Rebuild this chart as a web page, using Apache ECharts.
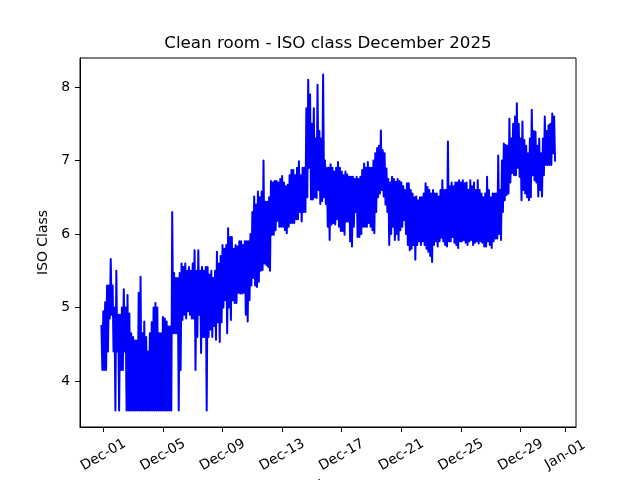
<!DOCTYPE html>
<html>
<head>
<meta charset="utf-8">
<title>Clean room - ISO class December 2025</title>
<script src="https://cdn.jsdelivr.net/npm/echarts@6/dist/echarts.min.js"></script>
<style>
  html, body { margin: 0; padding: 0; background: #fff; }
  #chart { width: 640px; height: 480px; }
</style>
</head>
<body>
<div id="chart"></div>
<script>
// ISO class, read as highest / lowest value in each 3 hour slot.
// First slot starts 2025-11-30 21:00 (UTC), 8 slots a day.
const firstSlot = Date.UTC(2025, 10, 30, 21)
const slotHours = 3

// Nov 30 21:00 + Dec 01 .. Dec 07
const hiWeek1 = [4.75,
  4.95, 5.07, 5.3, 5.3, 5.66, 5.3, 5.0, 5.5,
  4.9, 4.9, 5.0, 5.25, 5.0, 5.17, 4.92, 4.65,
  4.6, 4.55, 4.55, 5.2, 5.42, 4.65, 4.81, 4.6,
  4.4, 4.65, 4.8, 5.0, 5.06, 5.0, 4.65, 4.65,
  4.87, 4.85, 4.81, 4.74, 4.74, 6.3, 5.47, 5.4,
  5.4, 5.47, 5.6, 5.55, 5.6, 5.5, 5.55, 5.5,
  5.6, 5.78, 5.5, 5.78, 5.5, 5.55, 5.5, 5.55]
const loWeek1 = [4.15,
  4.15, 4.15, 4.4, 4.85, 4.9, 4.4, 3.6, 4.4,
  3.6, 4.15, 4.15, 4.4, 3.6, 3.6, 3.6, 3.6,
  3.6, 3.6, 3.6, 3.6, 3.6, 3.6, 3.6, 3.6,
  3.6, 3.6, 3.6, 3.6, 3.6, 3.6, 3.6, 3.6,
  3.6, 3.6, 3.6, 3.6, 3.6, 4.65, 4.65, 4.65,
  3.6, 4.15, 4.83, 4.9, 4.85, 4.95, 4.9, 4.85,
  4.85, 4.15, 4.6, 4.9, 4.38, 4.6, 4.6, 3.6]
// Dec 08 .. Dec 14
const hiWeek2 = [
  5.55, 5.45, 5.5, 5.4, 5.5, 5.76, 5.6, 5.7,
  5.85, 5.8, 5.85, 6.08, 5.96, 5.96, 5.8, 5.85,
  5.83, 5.9, 5.9, 5.85, 5.9, 5.9, 5.9, 6.0,
  6.3, 6.51, 6.4, 6.58, 6.5, 6.58, 7.0, 6.44,
  6.44, 6.5, 6.72, 6.7, 6.72, 6.72, 6.7, 6.75,
  6.79, 6.7, 6.65, 6.67, 6.8, 6.87, 6.87, 6.8,
  6.9, 6.99, 6.8, 6.9, 6.9, 7.71, 8.1, 7.9]
const loWeek2 = [
  4.6, 4.7, 4.6, 4.75, 4.56, 4.8, 4.53, 4.8,
  5.0, 5.1, 4.65, 5.0, 4.83, 5.1, 5.06, 5.06,
  5.2, 5.19, 5.19, 5.2, 4.9, 4.81, 5.1, 5.3,
  5.4, 5.3, 5.28, 5.35, 5.5, 5.51, 5.6, 5.58,
  5.55, 5.5, 5.99, 5.99, 6.05, 6.18, 6.1, 6.1,
  6.1, 6.05, 6.01, 6.1, 6.15, 6.15, 6.15, 6.2,
  6.2, 6.3, 6.17, 6.3, 6.3, 6.5, 6.9, 6.47]
// Dec 15 .. Dec 21
const hiWeek3 = [
  7.5, 7.71, 7.3, 8.03, 7.4, 7.3, 8.17, 7.0,
  6.9, 6.9, 6.95, 6.9, 6.85, 6.9, 6.98, 6.9,
  6.85, 6.8, 6.85, 6.81, 6.78, 6.78, 6.78, 6.75,
  6.78, 6.75, 6.78, 6.87, 6.96, 6.9, 6.98, 6.9,
  6.9, 7.0, 7.1, 7.17, 7.2, 7.41, 7.14, 7.1,
  6.89, 6.75, 6.7, 6.78, 6.75, 6.71, 6.75, 6.72,
  6.7, 6.65, 6.6, 6.69, 6.69, 6.6, 6.55, 6.5]
const loWeek3 = [
  6.47, 6.5, 6.49, 6.6, 6.41, 6.45, 6.5, 6.41,
  6.1, 5.92, 6.13, 6.15, 6.13, 6.2, 6.1, 6.04,
  6.04, 5.99, 6.17, 6.17, 5.9, 5.83, 6.1, 6.3,
  5.96, 5.96, 6.0, 6.1, 6.1, 6.1, 6.15, 6.1,
  6.05, 6.01, 6.3, 6.5, 6.55, 6.6, 6.51, 6.4,
  6.3, 5.85, 6.0, 6.1, 5.92, 6.0, 5.92, 6.05,
  6.1, 6.19, 6.0, 5.85, 5.78, 5.8, 5.85, 5.65]
// Dec 22 .. Dec 28
const hiWeek4 = [
  6.51, 6.46, 6.5, 6.5, 6.55, 6.69, 6.64, 6.6,
  6.55, 6.6, 6.55, 6.55, 6.51, 6.6, 6.73, 6.6,
  6.6, 7.26, 6.65, 6.7, 6.65, 6.7, 6.7, 6.73,
  6.7, 6.73, 6.69, 6.7, 6.6, 6.73, 6.65, 6.7,
  6.6, 6.73, 6.6, 6.55, 6.5, 6.55, 6.78, 6.6,
  6.5, 6.55, 6.55, 6.55, 7.07, 6.6, 7.0, 7.23,
  7.21, 7.2, 7.57, 7.3, 7.5, 7.6, 7.78, 7.5]
const loWeek4 = [
  5.85, 5.9, 5.85, 5.9, 5.85, 5.8, 5.76, 5.7,
  5.62, 5.85, 5.9, 5.83, 5.9, 5.95, 5.9, 5.85,
  5.83, 5.9, 5.9, 5.96, 5.88, 5.85, 5.81, 5.9,
  5.9, 5.92, 5.88, 5.85, 5.9, 5.92, 5.85, 5.88,
  5.9, 5.87, 5.9, 5.88, 5.83, 5.83, 5.9, 5.85,
  5.81, 5.9, 5.94, 5.94, 6.0, 5.92, 6.3, 6.46,
  6.53, 6.55, 6.7, 6.83, 6.8, 6.8, 6.9, 6.78]
// Dec 29 .. Dec 31 06:00
const hiWeek5 = [
  7.3, 7.53, 7.28, 7.2, 7.1, 7.3, 7.69, 7.4,
  7.39, 7.2, 7.3, 7.1, 7.3, 7.6, 7.4, 7.48,
  7.5, 7.64, 7.6]
const loWeek5 = [
  6.46, 6.6, 6.55, 6.5, 6.46, 6.5, 6.8, 6.73,
  6.7, 6.51, 6.6, 6.51, 6.8, 6.94, 6.94, 6.94,
  6.94, 7.1, 7.0]

const tickDates = ['2025-12-01', '2025-12-05', '2025-12-09', '2025-12-13', '2025-12-17',
  '2025-12-21', '2025-12-25', '2025-12-29', '2026-01-01']
const tickLabels = ['Dec-01', 'Dec-05', 'Dec-09', 'Dec-13', 'Dec-17',
  'Dec-21', 'Dec-25', 'Dec-29', 'Jan-01']
const yTicks = [4, 5, 6, 7, 8]

const HOUR = 3600 * 1000
const DAY = 24 * HOUR
const hi = [].concat(hiWeek1, hiWeek2, hiWeek3, hiWeek4, hiWeek5)
const lo = [].concat(loWeek1, loWeek2, loWeek3, loWeek4, loWeek5)

// high reading at the start of the slot, low reading half way through
const points = []
hi.forEach((v, i) => {
  const t = firstSlot + i * slotHours * HOUR
  points.push([t, v])
  points.push([t + slotHours * HOUR / 2, lo[i]])
})
const tickTimes = tickDates.map(d => Date.parse(d + 'T00:00:00Z'))

const font = 'DejaVu Sans'

const chart = echarts.init(document.getElementById('chart'), null, { renderer: 'canvas' })
chart.setOption({
  animation: false,
  backgroundColor: '#fff',
  graphic: [{
    type: 'text',
    x: 328,
    y: 43.5,
    style: {
      text: 'Clean room - ISO class December 2025',
      fill: '#000',
      font: '16.7px "DejaVu Sans"',
      textAlign: 'center',
      textVerticalAlign: 'middle'
    }
  }],
  grid: {
    left: 80,
    right: 64,
    top: 58,
    bottom: 53,
    outerBoundsMode: 'none',
    show: true,
    borderColor: '#000',
    borderWidth: 1
  },
  xAxis: {
    // timestamps in ms on a plain value axis, labelled like dates
    type: 'value',
    min: tickTimes[0] - 1.563 * DAY,
    max: tickTimes[tickTimes.length - 1] + 0.718 * DAY,
    axisLine: { show: true, lineStyle: { color: '#000', width: 1 } },
    axisTick: {
      show: true,
      customValues: tickTimes,
      length: 5,
      lineStyle: { color: '#000', width: 1 }
    },
    axisLabel: {
      customValues: tickTimes,
      formatter: v => {
        const i = tickTimes.findIndex(t => Math.abs(t - v) < 1000)
        return i >= 0 ? tickLabels[i] : ''
      },
      rotate: 30,
      align: 'center',
      verticalAlign: 'middle',
      margin: 28,
      color: '#000',
      fontSize: 13.9,
      fontFamily: font
    },
    splitLine: { show: false },
    name: 'date',
    nameLocation: 'middle',
    nameGap: 49,
    nameTextStyle: { color: '#000', fontSize: 13.9, fontFamily: font }
  },
  yAxis: {
    type: 'value',
    min: 3.374,
    max: 8.395,
    axisLine: { show: true, lineStyle: { color: '#000', width: 1 } },
    axisTick: {
      show: true,
      customValues: yTicks,
      length: 5,
      lineStyle: { color: '#000', width: 1 }
    },
    axisLabel: {
      customValues: yTicks,
      margin: 10,
      color: '#000',
      fontSize: 13.9,
      fontFamily: font
    },
    splitLine: { show: false },
    name: 'ISO Class',
    nameLocation: 'middle',
    nameRotate: 90,
    nameGap: 20,
    nameTextStyle: { color: '#000', fontSize: 13.9, fontFamily: font }
  },
  series: [{
    name: 'ISO Class',
    type: 'line',
    data: points,
    showSymbol: false,
    sampling: null,
    lineStyle: { color: '#0000ff', width: 2, join: 'round', cap: 'square' }
  }]
})
</script>
</body>
</html>
